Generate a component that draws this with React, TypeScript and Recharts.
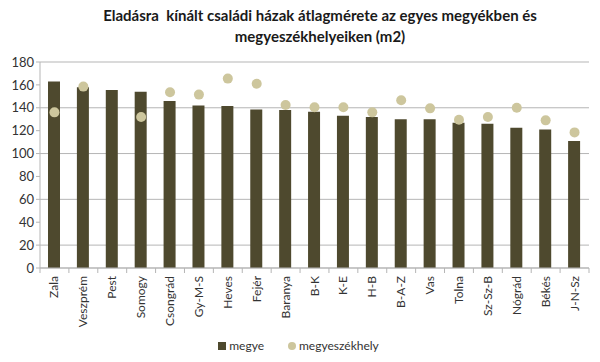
import { ComposedChart, Bar, Scatter, XAxis, YAxis, CartesianGrid, Legend } from 'recharts'

const categories = ['Zala', 'Veszprém', 'Pest', 'Somogy', 'Csongrád', 'Gy-M-S', 'Heves', 'Fejér', 'Baranya', 'B-K', 'K-E', 'H-B', 'B-A-Z', 'Vas', 'Tolna', 'Sz-Sz-B', 'Nógrád', 'Békés', 'J-N-Sz']
const megye = [163, 158, 155.5, 154, 146, 142, 141.5, 138.5, 138, 136.5, 133, 132, 130, 130, 127, 126, 122.5, 121, 111]
const megyeszekhely = [136, 158.5, null, 132, 153.5, 151.5, 165.5, 161, 142.5, 140.5, 140.5, 136, 146.5, 139.5, 129.5, 132, 140, 129, 118.5]
const yTicks = [0, 20, 40, 60, 80, 100, 120, 140, 160, 180]

const data = categories.map((name, i) => ({ name, megye: megye[i], megyeszekhely: megyeszekhely[i] }))

const W = 600
const H = 362
const MARGIN = { top: 62, right: 11, left: 0, bottom: 6 }
const Y_W = 40
const STEP = (W - MARGIN.left - MARGIN.right - Y_W) / categories.length
const GRID = '#b5b5b5'
const BAR = '#4e492e'
const DOT = '#cdc69d'
const FONT = 'Lato, "Open Sans", sans-serif'

function XTick(props: any) {
  const { x, y, payload, index } = props
  const last = index === categories.length - 1
  return (
    <g>
      <line x1={x - STEP / 2} x2={x - STEP / 2} y1={y - 8} y2={y - 3} stroke={GRID} />
      {last && <line x1={x + STEP / 2} x2={x + STEP / 2} y1={y - 8} y2={y - 3} stroke={GRID} />}
      <text
        x={0}
        y={0}
        transform={`translate(${x + 4},${y}) rotate(-90)`}
        textAnchor="end"
        fontSize={12}
        fill="#333"
        fontFamily={FONT}
      >
        {payload.value}
      </text>
    </g>
  )
}

function Dot(props: any) {
  const { cx, cy, payload } = props
  if (payload.megyeszekhely == null) return null
  return <circle cx={cx} cy={cy} r={5} fill={DOT} />
}

function LegendBox(props: any) {
  const { payload = [] } = props
  return (
    <div style={{ display: 'flex', justifyContent: 'center', gap: 24, fontSize: 12, color: '#333', paddingLeft: 8 }}>
      {payload.map((p: any) => (
        <span key={p.value} style={{ display: 'flex', alignItems: 'center', gap: 3 }}>
          <span
            style={{
              width: 8,
              height: 8,
              background: p.type === 'circle' ? DOT : BAR,
              borderRadius: p.type === 'circle' ? 4 : 0,
              display: 'inline-block',
            }}
          />
          {p.value}
        </span>
      ))}
    </div>
  )
}

export default function App() {
  return (
    <div style={{ position: 'absolute', left: 0, top: 0, width: W, height: H, background: '#fff', fontFamily: FONT }}>
      <div
        style={{
          position: 'absolute',
          left: 40,
          width: 560,
          top: 5,
          textAlign: 'center',
          fontSize: 15,
          fontWeight: 700,
          lineHeight: '21px',
          color: '#1a1a1a',
        }}
      >
        Eladásra&nbsp; kínált családi házak átlagmérete az egyes megyékben és
        <br />
        megyeszékhelyeiken (m2)
      </div>
      <ComposedChart width={W} height={H} data={data} margin={MARGIN} barCategoryGap="58%">
        <CartesianGrid vertical={false} stroke={GRID} />
        <XAxis
          dataKey="name"
          interval={0}
          height={70}
          tickLine={false}
          axisLine={{ stroke: GRID }}
          tick={<XTick />}
        />
        <YAxis
          width={Y_W}
          domain={[0, 180]}
          ticks={yTicks}
          tickSize={4}
          tickLine={{ stroke: GRID }}
          axisLine={{ stroke: GRID }}
          tick={{ fontSize: 13, fill: '#333', fontFamily: FONT }}
        />
        <Legend verticalAlign="bottom" height={18} content={<LegendBox />} />
        <Bar dataKey="megye" name="megye" fill={BAR} barSize={12} legendType="square" isAnimationActive={false} />
        <Scatter dataKey="megyeszekhely" name="megyeszékhely" fill={DOT} legendType="circle" shape={<Dot />} isAnimationActive={false} />
      </ComposedChart>
    </div>
  )
}
